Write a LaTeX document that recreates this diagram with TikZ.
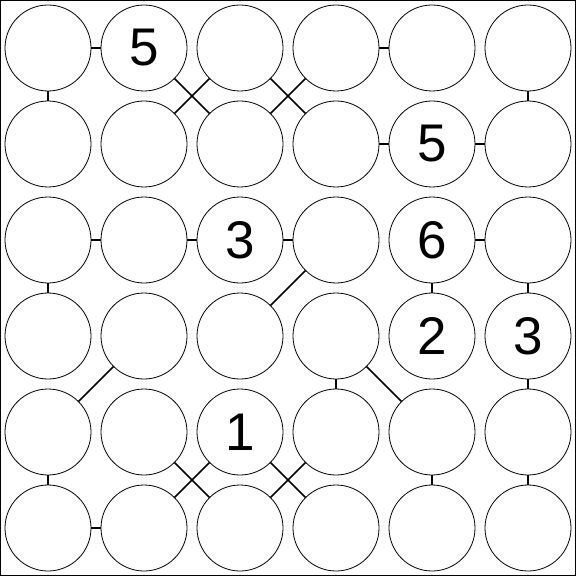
\documentclass[tikz,border=0pt]{standalone}
\usepackage{fontspec}
\setmainfont{Liberation Sans}
\begin{document}
\begin{tikzpicture}[x=1pt,y=-1pt,
        cell/.style={circle,draw,line width=0.8pt,minimum size=86pt,inner sep=0pt,
            font=\fontsize{53}{60}\selectfont},
        link/.style={line width=1.6pt}]
\useasboundingbox (0,0) rectangle (577,577);
\draw[line width=1pt] (0.5,0.5) rectangle (575.5,575.5);

% circles
\foreach \r in {0,...,5}
  \foreach \c in {0,...,5}
    \node[cell] (n-\r-\c) at (48+96*\c,48+96*\r) {};

% clues
\node at (n-0-1) [font=\fontsize{53}{60}\selectfont] {5};
\node at (n-1-4) [font=\fontsize{53}{60}\selectfont] {5};
\node at (n-2-2) [font=\fontsize{53}{60}\selectfont] {3};
\node at (n-2-4) [font=\fontsize{53}{60}\selectfont] {6};
\node at (n-3-4) [font=\fontsize{53}{60}\selectfont] {2};
\node at (n-3-5) [font=\fontsize{53}{60}\selectfont] {3};
\node at (n-4-2) [font=\fontsize{53}{60}\selectfont] {1};

% horizontal links
\foreach \r/\a/\b in {0/0/1,0/3/4,1/3/4,1/4/5,2/0/1,2/1/2,2/2/3,2/4/5,5/0/1}
  \draw[link] (n-\r-\a) -- (n-\r-\b);

% vertical links
\foreach \c/\a/\b in {0/0/1,0/2/3,0/4/5,5/0/1,5/2/3,5/3/4,5/4/5,4/2/3,4/4/5,3/3/4}
  \draw[link] (n-\a-\c) -- (n-\b-\c);

% diagonal links
\draw[link] (n-0-1) -- (n-1-2);
\draw[link] (n-0-2) -- (n-1-1);
\draw[link] (n-0-2) -- (n-1-3);
\draw[link] (n-0-3) -- (n-1-2);
\draw[link] (n-2-3) -- (n-3-2);
\draw[link] (n-3-1) -- (n-4-0);
\draw[link] (n-3-3) -- (n-4-4);
\draw[link] (n-4-1) -- (n-5-2);
\draw[link] (n-4-2) -- (n-5-1);
\draw[link] (n-4-2) -- (n-5-3);
\draw[link] (n-4-3) -- (n-5-2);
\end{tikzpicture}
\end{document}
